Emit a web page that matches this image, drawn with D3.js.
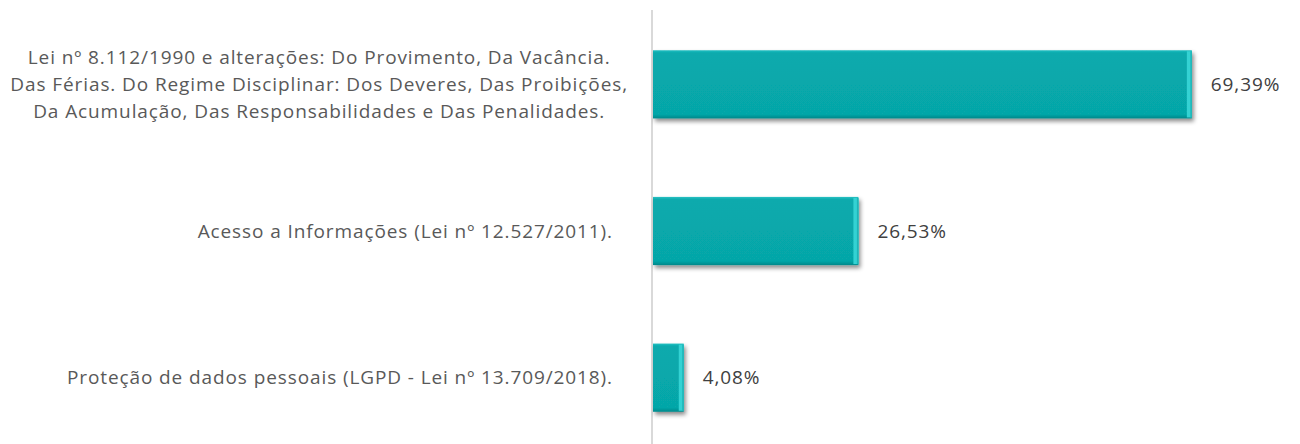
<!DOCTYPE html>
<html>
<head>
<meta charset="utf-8">
<script src="https://cdn.jsdelivr.net/npm/d3@7/dist/d3.min.js"></script>
<style>
  html, body { margin: 0; padding: 0; background: #ffffff; }
  svg { display: block; }
</style>
</head>
<body>
<svg id="chart" width="1300" height="444"></svg>
<script>
const categories = [
  ["Lei nº 8.112/1990 e alterações: Do Provimento, Da Vacância.",
   "Das Férias. Do Regime Disciplinar: Dos Deveres, Das Proibições,",
   "Da Acumulação, Das Responsabilidades e Das Penalidades."],
  ["Acesso a Informações (Lei nº 12.527/2011)."],
  ["Proteção de dados pessoais (LGPD - Lei nº 13.709/2018)."]
];
const values = [69.39, 26.53, 4.08];
const valueLabels = ["69,39%", "26,53%", "4,08%"];

const svg = d3.select("#chart");
const axisX = 652;
const fontFam = "'Open Sans', 'DejaVu Sans', sans-serif";
const fontSize = 19;
const spacing = 0.9;

const x = d3.scaleLinear().domain([0, 100]).range([axisX, axisX + 778]);
const y = d3.scaleBand().domain(d3.range(categories.length)).range([11, 451]).paddingInner(0.535).paddingOuter(0.2675);

const defs = svg.append("defs");
const f = defs.append("filter").attr("id", "shadow").attr("x", "-10%").attr("y", "-20%").attr("width", "130%").attr("height", "160%");
f.append("feDropShadow").attr("dx", 2).attr("dy", 3).attr("stdDeviation", 2.2).attr("flood-color", "#000").attr("flood-opacity", 0.45);

const gv = defs.append("linearGradient").attr("id", "vgrad").attr("x1", 0).attr("y1", 0).attr("x2", 0).attr("y2", 1);
gv.append("stop").attr("offset", "0%").attr("stop-color", "#27c0c2");
gv.append("stop").attr("offset", "4%").attr("stop-color", "#08aaad");
gv.append("stop").attr("offset", "94%").attr("stop-color", "#06a6a8");
gv.append("stop").attr("offset", "100%").attr("stop-color", "#03888a");

// axis line
svg.append("line")
  .attr("x1", axisX).attr("x2", axisX)
  .attr("y1", 10).attr("y2", 444)
  .attr("stroke", "#d9d9d9").attr("stroke-width", 2);

const bars = svg.append("g");
values.forEach((v, i) => {
  const g = bars.append("g");
  const x0 = x(0) + 1, x1 = x(v);
  g.append("rect")
    .attr("x", x0).attr("y", y(i))
    .attr("width", x1 - x0).attr("height", y.bandwidth())
    .attr("fill", "url(#vgrad)")
    .attr("filter", "url(#shadow)");
  // right bevel
  g.append("rect")
    .attr("x", x1 - 5).attr("y", y(i) + 1)
    .attr("width", 5).attr("height", y.bandwidth() - 2)
    .attr("fill", "#34d2d3");
  g.append("rect")
    .attr("x", x1 - 1.5).attr("y", y(i) + 1)
    .attr("width", 1.5).attr("height", y.bandwidth() - 2)
    .attr("fill", "#1fb5b7");
  // value label
  svg.append("text")
    .attr("x", x1 + 19)
    .attr("y", y(i) + y.bandwidth() / 2)
    .attr("dy", "0.35em")
    .attr("font-family", fontFam)
    .attr("font-size", fontSize)
    .attr("letter-spacing", spacing)
    .attr("fill", "#404040")
    .text(valueLabels[i]);
});

// category labels
const lineH = 27;
categories.forEach((lines, i) => {
  const cy = y(i) + y.bandwidth() / 2;
  const t = svg.append("text")
    .attr("font-family", fontFam)
    .attr("font-size", fontSize)
    .attr("letter-spacing", spacing)
    .attr("fill", "#595959");
  if (lines.length === 1) {
    t.attr("x", 613).attr("y", cy).attr("dy", "0.35em").attr("text-anchor", "end").text(lines[0]);
  } else {
    const spans = lines.map((l, k) => t.append("tspan")
      .attr("y", cy + (k - (lines.length - 1) / 2) * lineH)
      .attr("dy", "0.35em")
      .text(l));
    const maxW = d3.max(spans, s => s.node().getComputedTextLength());
    const cx = 628 - maxW / 2;
    spans.forEach(s => s.attr("x", cx).attr("text-anchor", "middle"));
  }
});
</script>
</body>
</html>
